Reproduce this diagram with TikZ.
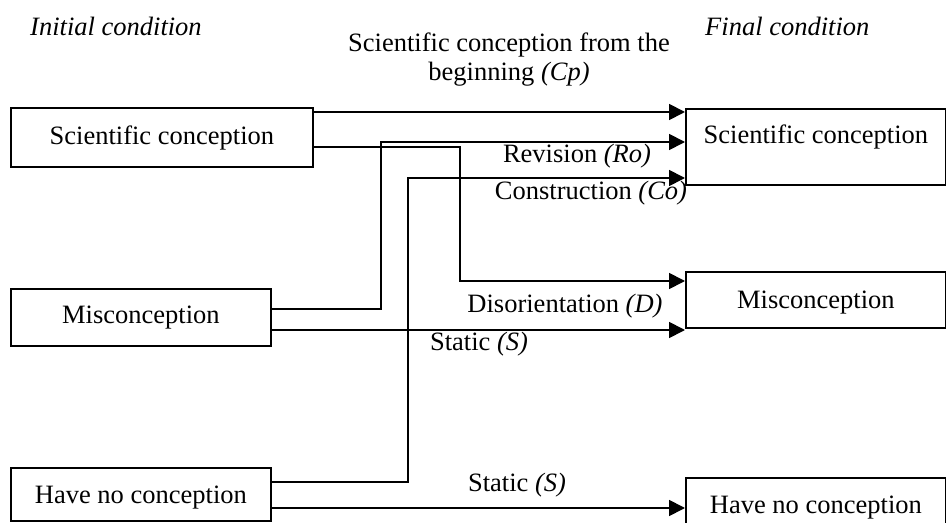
\documentclass[tikz,border=0pt]{standalone}
\usepackage{fontspec}
\setmainfont{Liberation Serif}
\usetikzlibrary{arrows.meta}
\begin{document}
\begin{tikzpicture}[x=1bp,y=-1bp,
  every node/.style={font=\fontsize{26.5bp}{29bp}\selectfont, inner sep=0pt},
  box/.style={draw, line width=1.8bp, minimum width=260bp, anchor=north west},
  arr/.style={line width=1.8bp, -{Triangle[length=16bp,width=16bp]}},
  conn/.style={line width=1.8bp},
  lab/.style={anchor=base}]
\useasboundingbox (0,0) rectangle (946,523);
\clip (0,0) rectangle (946,523);
% headings
\node[anchor=base west] (hinit) at (30,36) {\itshape Initial condition};
\node[anchor=base west] (hfin) at (705,36) {\itshape Final condition};
\node[anchor=base, align=center] (hcp) at (509,81) {Scientific conception from the\\beginning \itshape(Cp)};
% left boxes
\node[box, minimum width=302bp, text height=37bp, text depth=22bp] (lsc) at (10,107) {Scientific conception};
\node[box, text height=35bp, text depth=22bp] (lmis) at (10,288) {Misconception};
\node[box, text height=36bp, text depth=17bp] (lhnc) at (10,467) {Have no conception};
% right boxes
\node[box, text height=35bp, text depth=41bp] (rsc) at (685,108) {Scientific conception};
\node[box, text height=37bp, text depth=19bp] (rmis) at (685,271) {Misconception};
\node[box, text height=36bp, text depth=30bp] (rhnc) at (685,477) {Have no conception};
% connectors
\draw[arr] (lsc.east |- 0,112) -- (rsc.west |- 0,112);
\draw[arr] (lmis.east |- 0,309) -| (381,142) -- (rsc.west |- 0,142);
\draw[arr] (lhnc.east |- 0,482) -| (408,178) -- (rsc.west |- 0,178);
\draw[arr] (lsc.east |- 0,147) -| (460,281) -- (rmis.west |- 0,281);
\draw[arr] (lmis.east |- 0,330) -- (rmis.west |- 0,330);
\draw[arr] (lhnc.east |- 0,508) -- (rhnc.west |- 0,508);
% labels
\node[lab] (lro) at (577,163) {Revision \itshape(Ro)};
\node[lab] (lco) at (591,200) {Construction \itshape(Co)};
\node[lab] (ld) at (565,313) {Disorientation \itshape(D)};
\node[lab] (ls1) at (479,351) {Static \itshape(S)};
\node[lab] (ls2) at (517,491) {Static \itshape(S)};
\end{tikzpicture}
\end{document}
